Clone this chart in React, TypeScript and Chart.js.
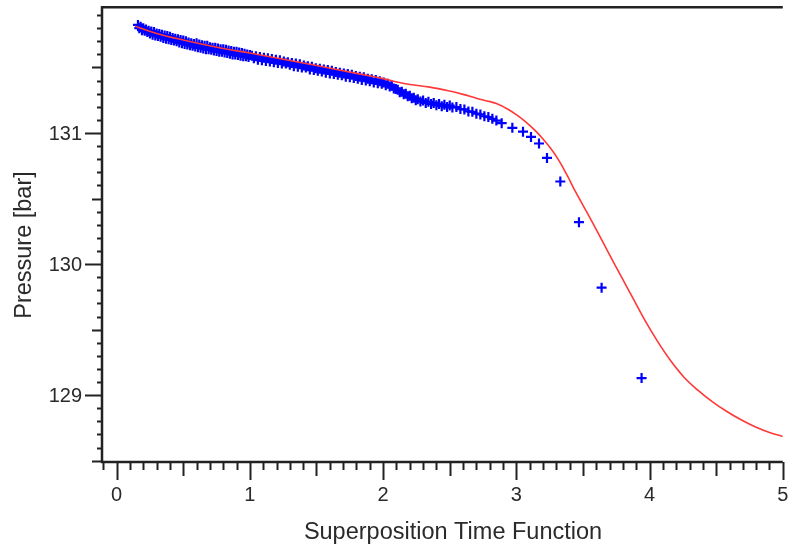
import React, { useEffect, useRef } from "react";
import { Chart, registerables } from "chart.js";
Chart.register(...registerables);

// Measured pressure (blue crosses)
const measuredX = [
  0.16, 0.17, 0.18, 0.19, 0.2, 0.21, 0.22, 0.23, 0.24, 0.25, 0.26, 0.27, 0.28, 0.29, 0.3, 0.31, 0.32, 0.33, 0.34, 0.35,
  0.36, 0.37, 0.38, 0.39, 0.4, 0.41, 0.42, 0.43, 0.44, 0.45, 0.46, 0.47, 0.48, 0.49, 0.5, 0.51, 0.52, 0.53, 0.54, 0.55,
  0.56, 0.57, 0.58, 0.59, 0.6, 0.61, 0.62, 0.63, 0.64, 0.65, 0.66, 0.67, 0.68, 0.69, 0.7, 0.71, 0.72, 0.73, 0.74, 0.75,
  0.76, 0.77, 0.78, 0.79, 0.8, 0.81, 0.82, 0.83, 0.84, 0.85, 0.86, 0.87, 0.88, 0.89, 0.9, 0.91, 0.92, 0.93, 0.94, 0.95,
  0.96, 0.97, 0.98, 0.99, 1.0,
  1.015, 1.03, 1.045, 1.06, 1.075, 1.09, 1.105, 1.12, 1.135, 1.15, 1.165, 1.18, 1.195, 1.21, 1.225, 1.24, 1.255, 1.27,
  1.285, 1.3, 1.315, 1.33, 1.345, 1.36, 1.375, 1.39, 1.405, 1.42, 1.435, 1.45, 1.465, 1.48, 1.495, 1.51, 1.525, 1.54,
  1.555, 1.57, 1.585, 1.6, 1.615, 1.63, 1.645, 1.66, 1.675, 1.69, 1.705, 1.72, 1.735, 1.75, 1.765, 1.78, 1.795, 1.81,
  1.825, 1.84, 1.855, 1.87, 1.885, 1.9, 1.915, 1.93, 1.945, 1.96, 1.975, 1.99, 2.005, 2.02, 2.035, 2.05, 2.065, 2.08, 2.095,
  2.11, 2.125, 2.14, 2.155, 2.17, 2.185, 2.2, 2.215, 2.23, 2.245, 2.26, 2.28, 2.3, 2.32, 2.34, 2.36, 2.38, 2.4, 2.42,
  2.44, 2.46, 2.48, 2.5, 2.52, 2.55, 2.58, 2.61, 2.64, 2.67, 2.7, 2.73, 2.76, 2.79, 2.82, 2.85,
  2.89, 2.97, 3.05, 3.11, 3.17, 3.23, 3.33, 3.47, 3.64, 3.94,
];
const measuredP = [
  131.825, 131.8, 131.81, 131.785, 131.8, 131.78, 131.79, 131.77, 131.78, 131.76,
  131.775, 131.75, 131.77, 131.745, 131.76, 131.74, 131.755, 131.735, 131.75, 131.725,
  131.745, 131.72, 131.74, 131.715, 131.735, 131.71, 131.725, 131.705, 131.72, 131.7,
  131.715, 131.69, 131.71, 131.685, 131.705, 131.68, 131.7, 131.675, 131.69, 131.67,
  131.685, 131.665, 131.68, 131.66, 131.685, 131.655, 131.675, 131.65, 131.67, 131.645,
  131.665, 131.64, 131.665, 131.64, 131.655, 131.635, 131.65, 131.63, 131.65, 131.625,
  131.645, 131.62, 131.64, 131.62, 131.64, 131.615, 131.635, 131.61, 131.63, 131.605,
  131.625, 131.6, 131.62, 131.6, 131.62, 131.595, 131.615, 131.59, 131.61, 131.585,
  131.605, 131.585, 131.6, 131.58, 131.595,
  131.59, 131.57, 131.585, 131.56, 131.58, 131.555, 131.575, 131.55, 131.57, 131.545,
  131.565, 131.54, 131.56, 131.535, 131.555, 131.53, 131.545, 131.53, 131.54, 131.52,
  131.535, 131.51, 131.53, 131.505, 131.525, 131.5, 131.515, 131.5, 131.51, 131.485,
  131.505, 131.48, 131.495, 131.475, 131.49, 131.47, 131.485, 131.46, 131.48, 131.455,
  131.475, 131.45, 131.465, 131.445, 131.46, 131.44, 131.455, 131.43, 131.45, 131.425,
  131.445, 131.42, 131.435, 131.415, 131.43, 131.405, 131.425, 131.4, 131.415, 131.395,
  131.41, 131.385, 131.405, 131.38, 131.395, 131.375, 131.385, 131.365, 131.375, 131.355,
  131.36, 131.34, 131.335,
  131.33, 131.312, 131.315, 131.295, 131.3, 131.28, 131.285, 131.265, 131.27, 131.25,
  131.258, 131.24, 131.248, 131.23, 131.238, 131.222, 131.23, 131.212, 131.222, 131.205,
  131.215, 131.198, 131.21, 131.195, 131.198, 131.183, 131.18, 131.165, 131.162, 131.148,
  131.142, 131.128, 131.122, 131.108, 131.095,
  131.075, 131.04, 131.01, 130.97, 130.92, 130.81, 130.63, 130.32, 129.82, 129.13,
];

// Model pressure (red line)
const modelX = [
  0.14, 0.3, 0.5, 0.8, 1.0, 1.2, 1.5, 1.8, 2.0, 2.1, 2.2, 2.35, 2.5, 2.6, 2.7, 2.78, 2.85, 2.94, 3.0, 3.07, 3.14,
  3.2, 3.26, 3.32, 3.38, 3.44, 3.57, 3.69, 3.79, 3.87, 3.96, 4.06, 4.16, 4.26, 4.36, 4.47, 4.58, 4.69, 4.8, 4.9, 5.0,
];
const modelP = [
  131.815, 131.76, 131.71, 131.645, 131.61, 131.572, 131.515, 131.455, 131.415, 131.39, 131.37, 131.35, 131.32,
  131.295, 131.265, 131.245, 131.225, 131.18, 131.14, 131.085, 131.02, 130.955, 130.88, 130.79, 130.68, 130.56,
  130.32, 130.09, 129.9, 129.75, 129.58, 129.41, 129.26, 129.135, 129.04, 128.95, 128.875, 128.81, 128.755, 128.715, 128.685,
];

const xTickLabels = [0, 1, 2, 3, 4, 5];
const yTickLabels = [129, 130, 131];
const xTitle = "Superposition Time Function";
const yTitle = "Pressure [bar]";

const X_MIN = -0.11;
const X_MAX = 5.0;
const Y_MIN = 128.49;
const Y_MAX = 131.96;

const FONT = "'Liberation Sans', Arial, sans-serif";
const TEXT = "#2a2a2a";

const axesPlugin = {
  id: "customAxes",
  afterDraw(chart: any) {
    const { ctx, chartArea: a, scales } = chart;
    const x = scales.x;
    const y = scales.y;
    ctx.save();
    ctx.strokeStyle = "#222";
    ctx.lineCap = "butt";
    ctx.lineWidth = 2.5;
    ctx.beginPath();
    ctx.moveTo(a.left, a.top - 1);
    ctx.lineTo(a.left, a.bottom + 1);
    ctx.moveTo(a.left - 1, a.bottom);
    ctx.lineTo(a.right, a.bottom);
    ctx.moveTo(a.left - 1, a.top);
    ctx.lineTo(a.right, a.top);
    ctx.stroke();

    ctx.lineWidth = 2;
    ctx.beginPath();
    for (let i = Math.ceil(Y_MIN * 10 - 1e-6); i <= Math.floor(Y_MAX * 10 + 1e-6); i++) {
      const py = Math.round(y.getPixelForValue(i / 10)) + 0.5;
      const len = i % 10 === 0 ? 17 : i % 5 === 0 ? 10 : 5;
      ctx.moveTo(a.left, py);
      ctx.lineTo(a.left - len, py);
    }
    for (let i = Math.ceil(X_MIN * 10 - 1e-6); i <= Math.floor(X_MAX * 10 + 1e-6); i++) {
      const px = Math.round(x.getPixelForValue(i / 10)) + 0.5;
      const len = i % 10 === 0 ? 18 : i % 5 === 0 ? 14 : 8;
      ctx.moveTo(px, a.bottom);
      ctx.lineTo(px, a.bottom + len);
    }
    ctx.stroke();

    ctx.fillStyle = TEXT;
    ctx.font = `20px ${FONT}`;
    ctx.textAlign = "right";
    ctx.textBaseline = "middle";
    yTickLabels.forEach((v) => {
      ctx.fillText(String(v), a.left - 20, y.getPixelForValue(v) + 1);
    });
    ctx.textAlign = "center";
    xTickLabels.forEach((v) => {
      ctx.fillText(String(v), x.getPixelForValue(v), a.bottom + 33);
    });

    ctx.font = `23.5px ${FONT}`;
    ctx.fillText(xTitle, 453, 533);
    ctx.textBaseline = "alphabetic";
    ctx.translate(31, 245);
    ctx.rotate(-Math.PI / 2);
    ctx.fillText(yTitle, 0, 0);
    ctx.restore();
  },
};

export default function App() {
  const canvasRef = useRef<HTMLCanvasElement | null>(null);

  useEffect(() => {
    const canvas = canvasRef.current;
    if (!canvas) return;
    const measured = measuredX.map((v, i) => ({ x: v, y: measuredP[i] }));
    const model = modelX.map((v, i) => ({ x: v, y: modelP[i] }));
    const chart = new Chart(canvas, {
      type: "scatter",
      data: {
        datasets: [
          {
            label: "Model",
            data: model,
            showLine: true,
            borderColor: "#ff3838",
            backgroundColor: "#ff3838",
            borderWidth: 1.6,
            pointRadius: 0,
            tension: 0.4,
          },
          {
            label: "Pressure",
            data: measured,
            showLine: false,
            pointStyle: "cross",
            pointRadius: 5,
            borderColor: "#0000ff",
            backgroundColor: "#0000ff",
            pointBorderWidth: 2.2,
          },
        ],
      },
      options: {
        responsive: false,
        animation: false,
        devicePixelRatio: 1,
        layout: { padding: { top: 7, right: 0, left: 0, bottom: 0 } },
        plugins: { legend: { display: false }, tooltip: { enabled: false } },
        scales: {
          x: {
            type: "linear",
            min: X_MIN,
            max: X_MAX,
            ticks: { display: false },
            grid: { display: false },
            border: { display: false },
            afterFit: (s: any) => {
              s.height = 87;
            },
          },
          y: {
            type: "linear",
            min: Y_MIN,
            max: Y_MAX,
            ticks: { display: false },
            grid: { display: false },
            border: { display: false },
            afterFit: (s: any) => {
              s.width = 102;
            },
          },
        },
      },
      plugins: [axesPlugin],
    });
    return () => chart.destroy();
  }, []);

  return (
    <div style={{ position: "absolute", left: 0, top: 0, width: 790, height: 549, background: "#fff" }}>
      <canvas ref={canvasRef} width={790} height={549} />
    </div>
  );
}
